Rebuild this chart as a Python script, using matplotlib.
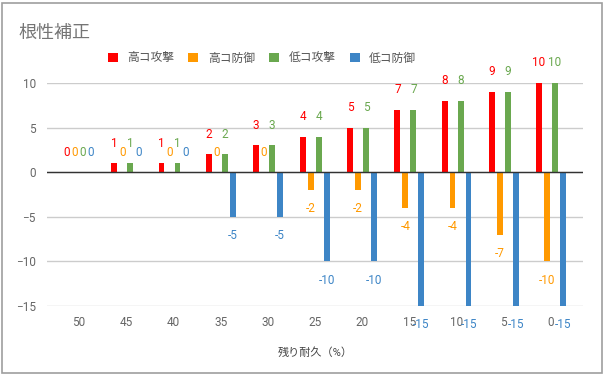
import matplotlib.pyplot as plt
import numpy as np

plt.rcParams['font.family'] = ['Roboto', 'Noto Sans CJK JP', 'DejaVu Sans']

categories = ['50', '45', '40', '35', '30', '25', '20', '15', '10', '5', '0']
series_names = ['高コ攻撃', '高コ防御', '低コ攻撃', '低コ防御']
high_atk = [0, 1, 1, 2, 3, 4, 5, 7, 8, 9, 10]
high_def = [0, 0, 0, 0, 0, -2, -2, -4, -4, -7, -10]
low_atk = [0, 1, 1, 2, 3, 4, 5, 7, 8, 9, 10]
low_def = [0, 0, 0, -5, -5, -10, -10, -15, -15, -15, -15]
colors = ['#ff0000', '#ff9900', '#6aa84f', '#3d85c6']

fig = plt.figure(figsize=(6.05, 3.76), dpi=100)
ax = fig.add_axes([47 / 605, 1 - 306 / 376, 536 / 605, 223 / 376])

x = np.arange(len(categories))
offsets = [-0.254, -0.085, 0.085, 0.254]
width = 0.125
all_series = [high_atk, high_def, low_atk, low_def]

for vals, off, c, name in zip(all_series, offsets, colors, series_names):
    ax.bar(x + off, vals, width, color=c, label=name, zorder=3)
    for xi, v in zip(x, vals):
        dy = -13.5 if v < 0 else 14.5
        ax.annotate(str(v), (xi + off, v), xytext=(0, dy), textcoords='offset points',
                    ha='center', va='center', color=c, fontsize=8.5,
                    annotation_clip=False, zorder=4)

ax.set_xlim(-0.68, 10.68)
ax.set_ylim(-15, 10)
ax.set_yticks([-15, -10, -5, 0, 5, 10])
ax.set_xticks(x)
ax.set_xticklabels(categories)
ax.grid(axis='y', color='#cccccc', linewidth=1, zorder=0)
ax.axhline(0, color='#333333', linewidth=1, zorder=4)
for s in ax.spines.values():
    s.set_visible(False)
ax.tick_params(length=0, colors='#666666', labelsize=8.5)
ax.tick_params(axis='x', pad=7)
ax.tick_params(axis='y', pad=8)
ax.set_xlabel('残り耐久（%）', color='#444444', fontsize=8, labelpad=13)

fig.text(18 / 605, 1 - 33 / 376, '根性補正', fontsize=13, color='#757575', va='center')
fig.legend(loc='center', bbox_to_anchor=(262 / 605, 1 - 58 / 376), ncol=4, frameon=False,
           fontsize=8.5, handlelength=0.85, handleheight=0.85, handletextpad=0.8,
           columnspacing=1.2, labelcolor='#555555')

fig.patches.append(plt.Rectangle((2 / 605, 3 / 376), 600 / 605, 370 / 376, fill=False,
                                 edgecolor='#9e9e9e', linewidth=1.2,
                                 transform=fig.transFigure, figure=fig))

fig.savefig('out.png', dpi=100)
